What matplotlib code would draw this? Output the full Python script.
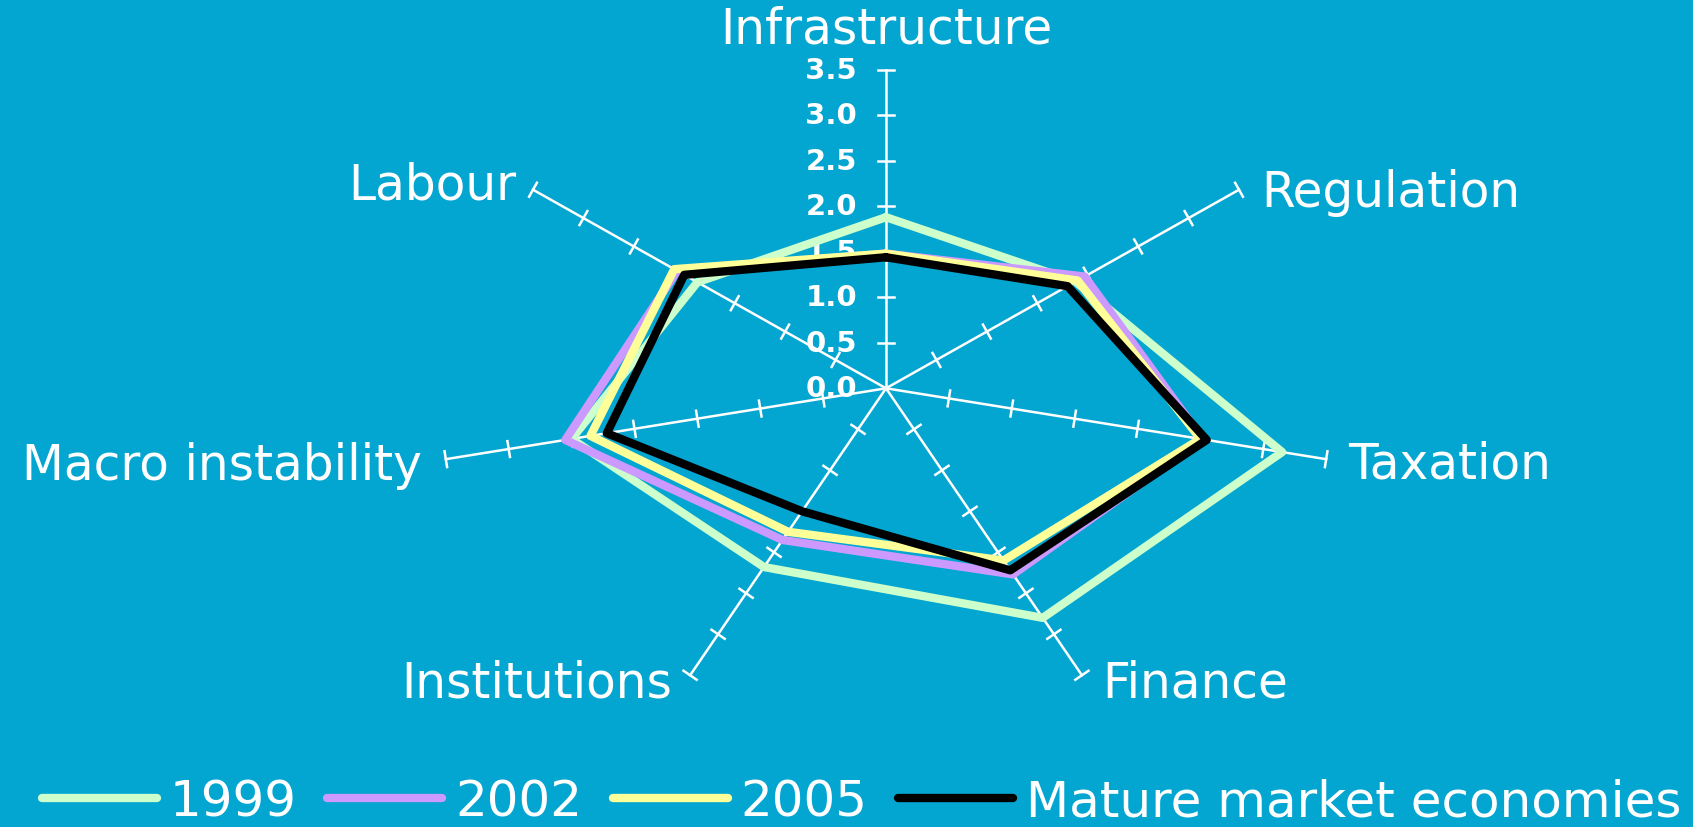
import numpy as np
import matplotlib.pyplot as plt

# values
categories = ["Infrastructure", "Regulation", "Taxation", "Finance",
              "Institutions", "Macro instability", "Labour"]
series_names = ["1999", "2002", "2005", "Mature market economies"]
v1999 = [1.88, 1.88, 3.15, 2.80, 2.18, 2.50, 1.87]
v2002 = [1.48, 1.97, 2.52, 2.27, 1.85, 2.55, 2.07]
v2005 = [1.48, 1.90, 2.50, 2.10, 1.75, 2.35, 2.10]
mature = [1.44, 1.80, 2.55, 2.22, 1.50, 2.22, 2.00]
rticks = [0.5, 1.0, 1.5, 2.0, 2.5, 3.0, 3.5]
rmax = 3.5

bg = "#03A5D1"
colors = ["#CCFFCC", "#CC99FF", "#FFFF99", "#000000"]

W, H = 1693, 828
cx, cy = 886, 389.3   # centre of the web, pixels from top-left
sx, sy = 129, 91      # pixels per unit (chart is stretched sideways)

fig = plt.figure(figsize=(W / 100, H / 100), dpi=100, facecolor=bg)
ax = fig.add_axes([0, 0, 1, 1])
ax.set_facecolor(bg)
ax.axis("off")
ax.set_xlim(-cx / sx, (W - cx) / sx)
ax.set_ylim(-(H - cy) / sy, cy / sy)

theta = np.arange(len(categories)) * 2 * np.pi / len(categories)

# spokes with cross ticks
for t in theta:
    ax.plot([0, rmax * np.sin(t)], [0, rmax * np.cos(t)], color="white", lw=1.8, zorder=1)
    ux, uy = np.sin(t) * sx, np.cos(t) * sy
    n = np.hypot(ux, uy)
    px, py = -uy / n * 8, ux / n * 8
    for r in rticks:
        x0, y0 = r * np.sin(t), r * np.cos(t)
        ax.plot([x0 - px / sx, x0 + px / sx], [y0 - py / sy, y0 + py / sy],
                color="white", lw=1.8, zorder=1)

# radial tick labels on the top spoke
for r in [0.0] + rticks:
    ax.text(-29 / sx, r, f"{r:.1f}", ha="right", va="center", fontsize=21,
            fontweight="bold", color="white", zorder=2)

# category labels
label_off = [(0, 41, "center"), (22, -2, "left"), (22, -4, "left"), (20, -7, "left"),
             (-18, -7, "right"), (-24, -6, "right"), (-17, 5, "right")]
for t, name, (dx, dy, ha) in zip(theta, categories, label_off):
    ax.annotate(name, (rmax * np.sin(t), rmax * np.cos(t)), xytext=(dx, dy),
                textcoords="offset pixels", ha=ha, va="center", fontsize=35, color="white")

# data series
handles = []
for i, (vals, name) in enumerate(zip([v1999, v2002, v2005, mature], series_names)):
    v = np.array(vals + vals[:1])
    tt = np.append(theta, theta[0])
    ln, = ax.plot(v * np.sin(tt), v * np.cos(tt), color=colors[i], lw=6,
                  solid_capstyle="round", label=name, zorder=3 + i)
    handles.append(ln)

fig.legend(handles=handles, loc="center", bbox_to_anchor=(0.509, 0.031), ncol=4,
           frameon=False, fontsize=36, labelcolor="white", handlelength=2.3,
           handletextpad=0.25, columnspacing=0.62, borderpad=0)

fig.savefig("out.png", dpi=100, facecolor=bg)
